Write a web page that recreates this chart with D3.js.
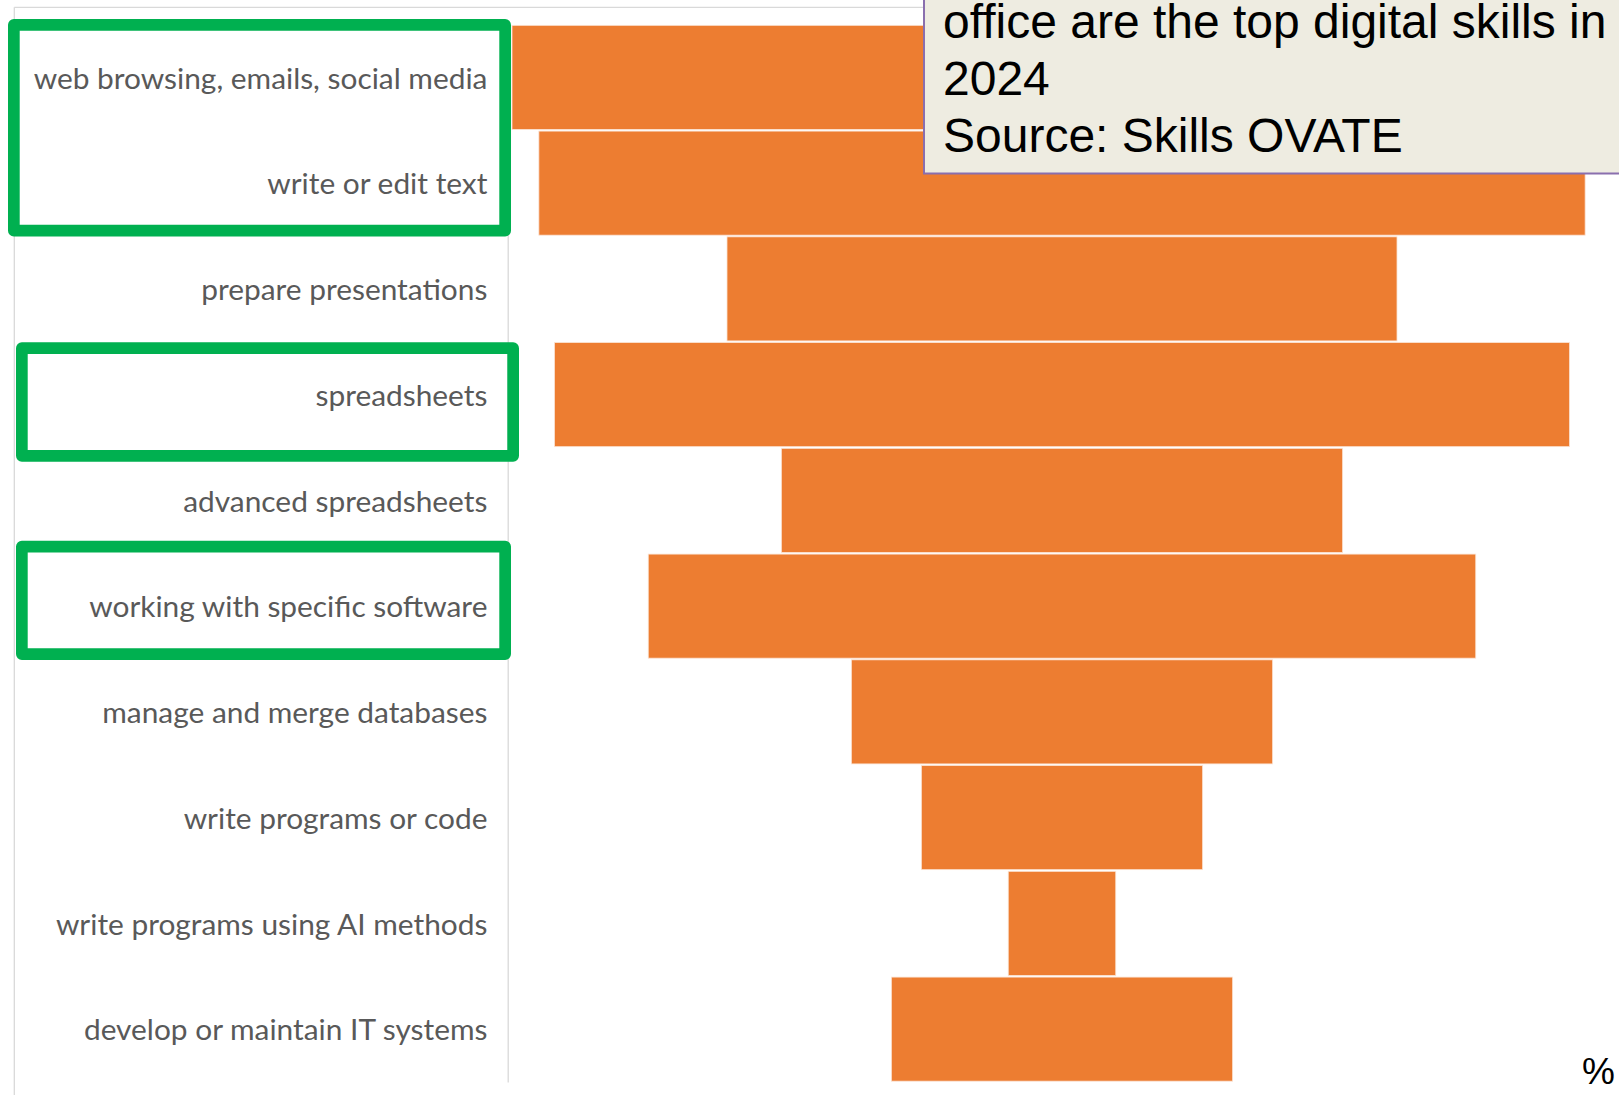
<!DOCTYPE html>
<html>
<head>
<meta charset="utf-8">
<script src="https://cdn.jsdelivr.net/npm/d3@7"></script>
<style>
  html, body { margin: 0; padding: 0; background: #fff; overflow: hidden; }
  svg { display: block; }
</style>
</head>
<body>
<svg id="chart" width="1619" height="1095"></svg>
<script>
// share of online job ads asking for each digital skill (%)
const skills = [
  'web browsing, emails, social media',
  'write or edit text',
  'prepare presentations',
  'spreadsheets',
  'advanced spreadsheets',
  'working with specific software',
  'manage and merge databases',
  'write programs or code',
  'write programs using AI methods',
  'develop or maintain IT systems'
];
const shares = [88.0, 83.7, 53.6, 81.2, 44.9, 66.2, 33.7, 22.5, 8.6, 27.3];

// skills framed in green in the original slide
const highlightGroups = [
  ['web browsing, emails, social media', 'write or edit text'],
  ['spreadsheets'],
  ['working with specific software']
];

const noteLines = ['office are the top digital skills in', '2024', 'Source: Skills OVATE'];
const unitLabel = '%';

var svg = d3.select('#chart'),
  width = +svg.attr('width'),
  height = +svg.attr('height');

const CENTER_X = 1062;
const PX_PER_UNIT = 12.5;
const AXIS_X = 507.7;
const LABEL_GAP = 20.3;
const LABEL_WIDTH = 454;
const GRID = '#d9d9d9';

var x = d3.scaleLinear()
  .domain([-50, 50])
  .range([CENTER_X - 50 * PX_PER_UNIT, CENTER_X + 50 * PX_PER_UNIT]);

var y = d3.scaleBand()
  .domain(skills)
  .range([24.5, 1082])
  .paddingInner(0.016)
  .paddingOuter(0.008);

// plot frame (top and left edges)
svg.append('line')
  .attr('x1', 14.3).attr('x2', width)
  .attr('y1', 7.3).attr('y2', 7.3)
  .attr('stroke', GRID).attr('stroke-width', 1.3);
svg.append('line')
  .attr('x1', 14.3).attr('x2', 14.3)
  .attr('y1', 7.3).attr('y2', height)
  .attr('stroke', GRID).attr('stroke-width', 1.3);

// fit the label font to the width of the longest label
var labelFont = 'Lato, "Open Sans", sans-serif';
var probe = svg.append('text')
  .style('font-family', labelFont)
  .style('font-size', '100px')
  .text(skills[0]);
var labelSize = 100 * LABEL_WIDTH / probe.node().getComputedTextLength();
probe.remove();

var axis = svg.append('g')
  .attr('transform', `translate(${AXIS_X},0)`)
  .call(d3.axisLeft(y).tickSize(0).tickPadding(LABEL_GAP));

axis.select('.domain')
  .attr('stroke', GRID)
  .attr('stroke-width', 1.3);

axis.selectAll('.tick text')
  .style('font-family', labelFont)
  .style('font-size', labelSize + 'px')
  .attr('fill', '#595959')
  .attr('dy', '0.38em');

// funnel bars, centred on CENTER_X
svg.append('g')
  .selectAll('rect')
  .data(skills)
  .enter()
  .append('rect')
  .attr('class', 'bar')
  .attr('x', (d, i) => x(-shares[i] / 2))
  .attr('width', (d, i) => x(shares[i] / 2) - x(-shares[i] / 2))
  .attr('y', d => y(d))
  .attr('height', y.bandwidth())
  .attr('fill', '#ed7d31')
  .attr('stroke', '#fbe3d3')
  .attr('stroke-width', 0.8);

// green highlight frames (hand placed on the slide, hence the odd offsets)
const BOX_STROKE = 11.7;
const boxFit = [
  { left: 8, right: 511, top: -6.3, bottom: 1.4 },
  { left: 16, right: 519, top: -0.3, bottom: 15 },
  { left: 16, right: 511, top: -13.4, bottom: 1.8 }
];

svg.append('g')
  .selectAll('rect')
  .data(highlightGroups)
  .enter()
  .append('rect')
  .attr('class', 'highlight')
  .attr('x', (d, i) => boxFit[i].left + BOX_STROKE / 2)
  .attr('width', (d, i) => boxFit[i].right - boxFit[i].left - BOX_STROKE)
  .attr('y', (d, i) => y(d[0]) + boxFit[i].top + BOX_STROKE / 2)
  .attr('height', (d, i) => {
    let top = y(d[0]) + boxFit[i].top;
    let bottom = y(d[d.length - 1]) + y.bandwidth() + boxFit[i].bottom;
    return bottom - top - BOX_STROKE;
  })
  .attr('fill', 'none')
  .attr('stroke', '#00b050')
  .attr('stroke-width', BOX_STROKE)
  .attr('stroke-linejoin', 'round');

// text box overlapping the top right corner
var note = svg.append('g').attr('class', 'note');
note.append('rect')
  .attr('x', 924)
  .attr('y', -40)
  .attr('width', width - 924 + 40)
  .attr('height', 213.5)
  .attr('fill', '#eeece1')
  .attr('stroke', '#8a6fae')
  .attr('stroke-width', 2);

note.selectAll('text')
  .data(noteLines)
  .enter()
  .append('text')
  .attr('x', 943)
  .attr('y', (d, i) => 38 + i * 57.1)
  .style('font-family', '"Liberation Sans", Arial, sans-serif')
  .style('font-size', '48px')
  .attr('fill', '#000')
  .text(d => d);

svg.append('text')
  .attr('x', 1615)
  .attr('y', 1084)
  .attr('text-anchor', 'end')
  .style('font-family', '"Liberation Sans", Arial, sans-serif')
  .style('font-size', '37px')
  .attr('fill', '#000')
  .text(unitLabel);
</script>
</body>
</html>
